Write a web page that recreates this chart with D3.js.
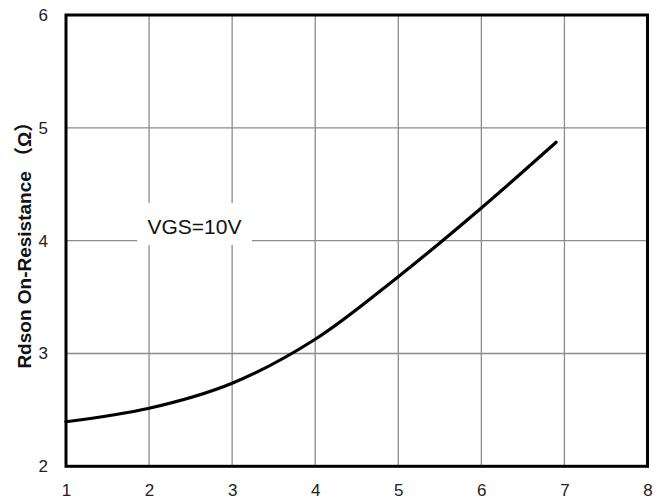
<!DOCTYPE html>
<html>
<head>
<meta charset="utf-8">
<script src="https://cdn.jsdelivr.net/npm/d3@7"></script>
<style>
  html, body { margin: 0; padding: 0; background: #fff; }
  svg { display: block; }
</style>
</head>
<body>
<svg id="chart" width="669" height="503"></svg>
<script>
// ---- data ----
const xTicks = [1, 2, 3, 4, 5, 6, 7, 8];
const yTicks = [2, 3, 4, 5, 6];
const curveX = [1, 2, 3, 4, 5, 6, 6.9];
const curveY = [2.395, 2.514, 2.736, 3.126, 3.681, 4.29, 4.872];
const yTitle = "Rdson On-Resistance （Ω）";
const annotation = "VGS=10V";

// ---- layout ----
const plotL = 66, plotR = 647.5, plotT = 15, plotB = 466.3;
const svg = d3.select("#chart");

const x = d3.scaleLinear().domain([1, 8]).range([plotL, plotR]);
const y = d3.scaleLinear().domain([2, 6]).range([plotB, plotT]);

// grid lines
const grid = svg.append("g").attr("stroke", "#8c8c8c").attr("stroke-width", 1.3);
grid.selectAll("line.v").data(xTicks.slice(1, -1)).join("line")
  .attr("class", "v")
  .attr("x1", d => x(d)).attr("x2", d => x(d))
  .attr("y1", plotT).attr("y2", plotB);
grid.selectAll("line.h").data(yTicks.slice(1, -1)).join("line")
  .attr("class", "h")
  .attr("x1", plotL).attr("x2", plotR)
  .attr("y1", d => y(d)).attr("y2", d => y(d));

// annotation box (covers grid)
const annX = 194.5, annBase = 234;
svg.append("rect")
  .attr("x", annX - 57.5).attr("y", 203)
  .attr("width", 115).attr("height", 42)
  .attr("fill", "#fff");
svg.append("text")
  .attr("x", annX).attr("y", annBase)
  .attr("text-anchor", "middle")
  .attr("font-family", "Liberation Sans, Arial, sans-serif")
  .attr("font-size", 21)
  .attr("fill", "#111")
  .text(annotation);

// curve
const pts = curveX.map((d, i) => [d, curveY[i]]);
const line = d3.line().x(d => x(d[0])).y(d => y(d[1])).curve(d3.curveCatmullRom.alpha(0.5));
svg.append("path")
  .attr("d", line(pts))
  .attr("fill", "none")
  .attr("stroke", "#000")
  .attr("stroke-width", 3.2)
  .attr("stroke-linecap", "round");

// frame
svg.append("rect")
  .attr("x", plotL).attr("y", plotT)
  .attr("width", plotR - plotL).attr("height", plotB - plotT)
  .attr("fill", "none").attr("stroke", "#000").attr("stroke-width", 3);

// axes (tick labels only)
const xAxis = d3.axisBottom(x).tickValues(xTicks).tickSize(0).tickPadding(18).tickFormat(d3.format("d"));
const gx = svg.append("g").attr("transform", `translate(0,${plotB})`).call(xAxis);
gx.select(".domain").remove();
gx.selectAll("text").attr("font-family", "Liberation Sans, Arial, sans-serif")
  .attr("font-size", 17).attr("fill", "#222");

const yAxis = d3.axisLeft(y).tickValues(yTicks).tickSize(0).tickPadding(18).tickFormat(d3.format("d"));
const gy = svg.append("g").attr("transform", `translate(${plotL},0)`).call(yAxis);
gy.select(".domain").remove();
gy.selectAll("text").attr("font-family", "Liberation Sans, Arial, sans-serif")
  .attr("font-size", 17).attr("fill", "#222");

// y title
svg.append("text")
  .attr("transform", `translate(31,${(plotT + plotB) / 2}) rotate(-90)`)
  .attr("text-anchor", "middle")
  .attr("font-family", "Liberation Sans, Arial, 'Noto Sans CJK SC', sans-serif")
  .attr("font-weight", "bold")
  .attr("font-size", 19)
  .attr("fill", "#111")
  .text(yTitle);
</script>
</body>
</html>
